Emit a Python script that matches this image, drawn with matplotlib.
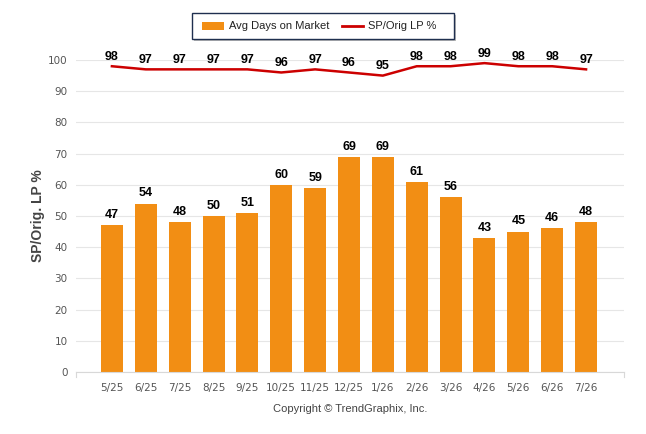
import matplotlib
matplotlib.use("Agg")
import matplotlib.pyplot as plt
from matplotlib.patches import Rectangle

categories = ["5/25", "6/25", "7/25", "8/25", "9/25", "10/25", "11/25", "12/25",
              "1/26", "2/26", "3/26", "4/26", "5/26", "6/26", "7/26"]
avg_days = [47, 54, 48, 50, 51, 60, 59, 69, 69, 61, 56, 43, 45, 46, 48]
sp_orig = [98, 97, 97, 97, 97, 96, 97, 96, 95, 98, 98, 99, 98, 98, 97]
yticks = [0, 10, 20, 30, 40, 50, 60, 70, 80, 90, 100]

bar_color = "#F28E14"
line_color = "#CC0000"
tick_font = ["Liberation Sans Narrow", "DejaVu Sans Condensed", "DejaVu Sans"]
text_font = ["Liberation Sans", "DejaVu Sans"]

fig = plt.figure(figsize=(6.46, 4.34), dpi=100)
ax = fig.add_axes([76/646, 1-372/434, (624-76)/646, (372-60)/434])

x = list(range(len(categories)))
ax.bar(x, avg_days, width=0.65, color=bar_color, zorder=2)
ax.plot(x, sp_orig, color=line_color, lw=1.8, zorder=3, clip_on=False)

for xi, v in zip(x, avg_days):
    ax.annotate(str(v), (xi, v), xytext=(0, 3), textcoords="offset points",
                ha="center", va="bottom", fontsize=9, fontweight="bold", color="black",
                family=text_font)
for xi, v in zip(x, sp_orig):
    ax.annotate(str(v), (xi, v), xytext=(0, 2.5), textcoords="offset points",
                ha="center", va="bottom", fontsize=9, fontweight="bold", color="black",
                annotation_clip=False, family=text_font)

ax.set_xlim(-1.06, len(categories) - 1 + 1.12)
ax.set_ylim(0, 100)
ax.set_yticks(yticks)
ax.set_yticklabels([str(t) for t in yticks], family=tick_font, fontsize=7.5, color="#555555")
ax.set_xticks(x)
ax.set_xticklabels(categories, family=tick_font, fontsize=7.5, color="#555555")
ax.tick_params(axis="y", length=0, pad=6)
ax.tick_params(axis="x", length=0, pad=8)
ax.grid(axis="y", color="#E6E6E6", lw=0.8, zorder=0)
for s in ["top", "right", "left"]:
    ax.spines[s].set_visible(False)
ax.spines["bottom"].set_color("#D8D8D8")
for xb in [-1.06, len(categories) - 1 + 1.12]:
    ax.plot([xb, xb], [0, -1.6], color="#D8D8D8", lw=0.8, clip_on=False)

ax.set_ylabel("SP/Orig. LP %", fontsize=10, fontweight="bold", color="#444444", labelpad=2,
              family=text_font)

# legend
lx0, ly0, lw_, lh = 192/646, 1-39/434, (454-192)/646, 26/434
fig.add_artist(Rectangle((lx0 + 2/646, ly0 - 2/434), lw_, lh, transform=fig.transFigure,
                         facecolor="#BBBBBB", edgecolor="none", zorder=10))
fig.add_artist(Rectangle((lx0, ly0), lw_, lh, transform=fig.transFigure,
                         facecolor="white", edgecolor="#1F2F4F", lw=1, zorder=11))
fig.add_artist(Rectangle((202/646, 1-30/434), 22/646, 8/434, transform=fig.transFigure,
                         facecolor=bar_color, edgecolor="none", zorder=12))
fig.text(229/646, 1-26/434, "Avg Days on Market", fontsize=8, va="center", ha="left",
         color="#222222", zorder=12, family=text_font)
fig.add_artist(plt.Line2D([342/646, 363/646], [1-26/434, 1-26/434], color=line_color, lw=2,
                          transform=fig.transFigure, zorder=12))
fig.text(368/646, 1-26/434, "SP/Orig LP %", fontsize=8, va="center", ha="left",
         color="#222222", zorder=12, family=text_font)

fig.text(350/646, 1-409/434, "Copyright \u00a9 TrendGraphix, Inc.", fontsize=8, ha="center",
         va="center", color="#444444", family=text_font)

fig.savefig("out.png", dpi=100)
